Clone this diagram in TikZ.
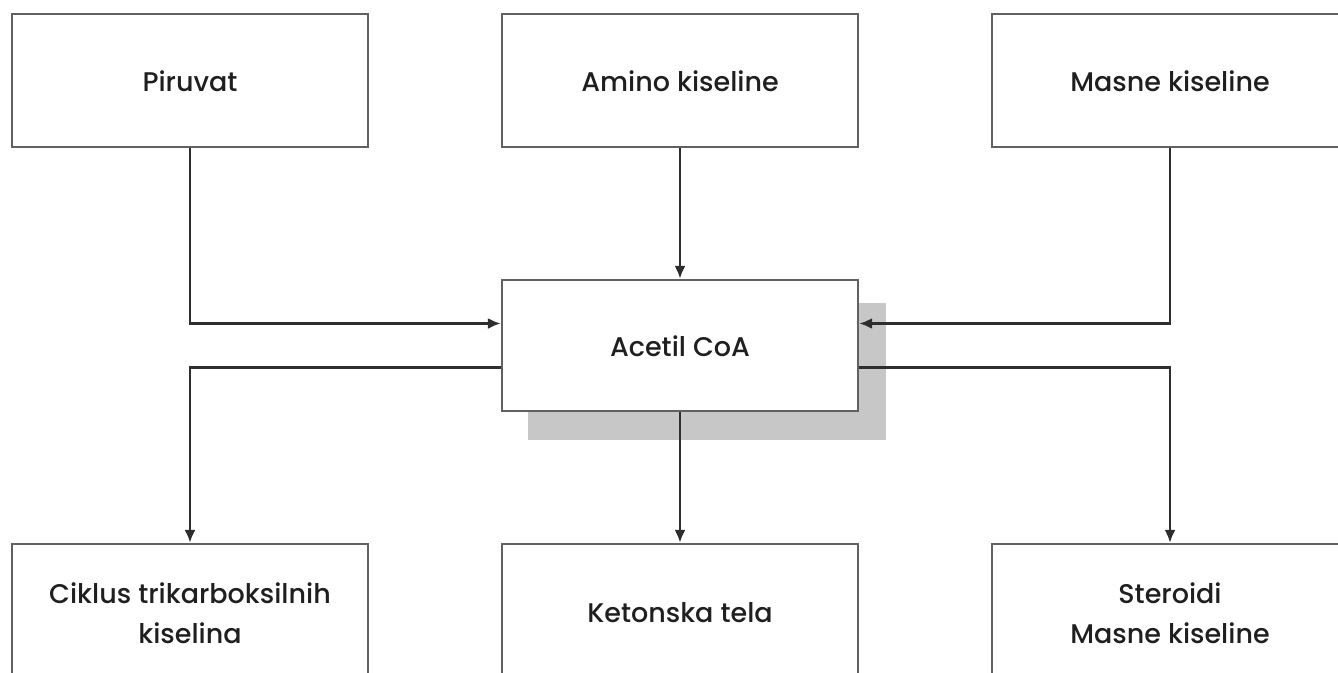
\documentclass[tikz,border=0pt]{standalone}
\usepackage{fontspec}
\setmainfont{Poppins}[UprightFont=* Medium, BoldFont=* SemiBold]
\usetikzlibrary{arrows.meta}
\begin{document}
\begin{tikzpicture}[x=1pt,y=-1pt,
  box/.style={draw=black!62, line width=2.4pt, fill=white, minimum width=356pt, minimum height=133pt, inner sep=0pt, align=center, font=\fontsize{27}{40}\selectfont, text=black!88},
  low/.style={text height=28pt, text depth=6pt},
  link/.style={draw=black!82, line width=2.3pt, -{Latex[length=13pt,width=11pt]}},
  shade/.style={fill=black!22, draw=none}]
\useasboundingbox (0,0) rectangle (1338,672);
\clip (0,0) rectangle (1338,672);
% shadow behind the central node
\fill[shade] (528,303) rectangle (886,440);
% source nodes
\node[box, low] (pir) at (190,80.5) {Piruvat};
\node[box, low] (ami) at (680,80.5) {Amino kiseline};
\node[box, low] (mas) at (1170,80.5) {Masne kiseline};
% central node
\node[box, low, minimum height=131pt] (aco) at (680,345.5) {Acetil CoA};
% product nodes
\node[box, minimum height=138pt] (cik) at (190,613) {Ciklus trikarboksilnih\\kiselina};
\node[box, minimum height=138pt] (ket) at (680,613) {Ketonska tela};
\node[box, minimum height=138pt] (ste) at (1170,613) {Steroidi\\Masne kiseline};
% incoming connectors
\draw[link] (pir.south) |- ([yshift=22pt]aco.west);
\draw[link] (ami.south) -- (aco.north);
\draw[link] (mas.south) |- ([yshift=22pt]aco.east);
% outgoing connectors
\draw[link] ([yshift=-22pt]aco.west) -| (cik.north);
\draw[link] (aco.south) -- (ket.north);
\draw[link] ([yshift=-22pt]aco.east) -| (ste.north);
\end{tikzpicture}
\end{document}
